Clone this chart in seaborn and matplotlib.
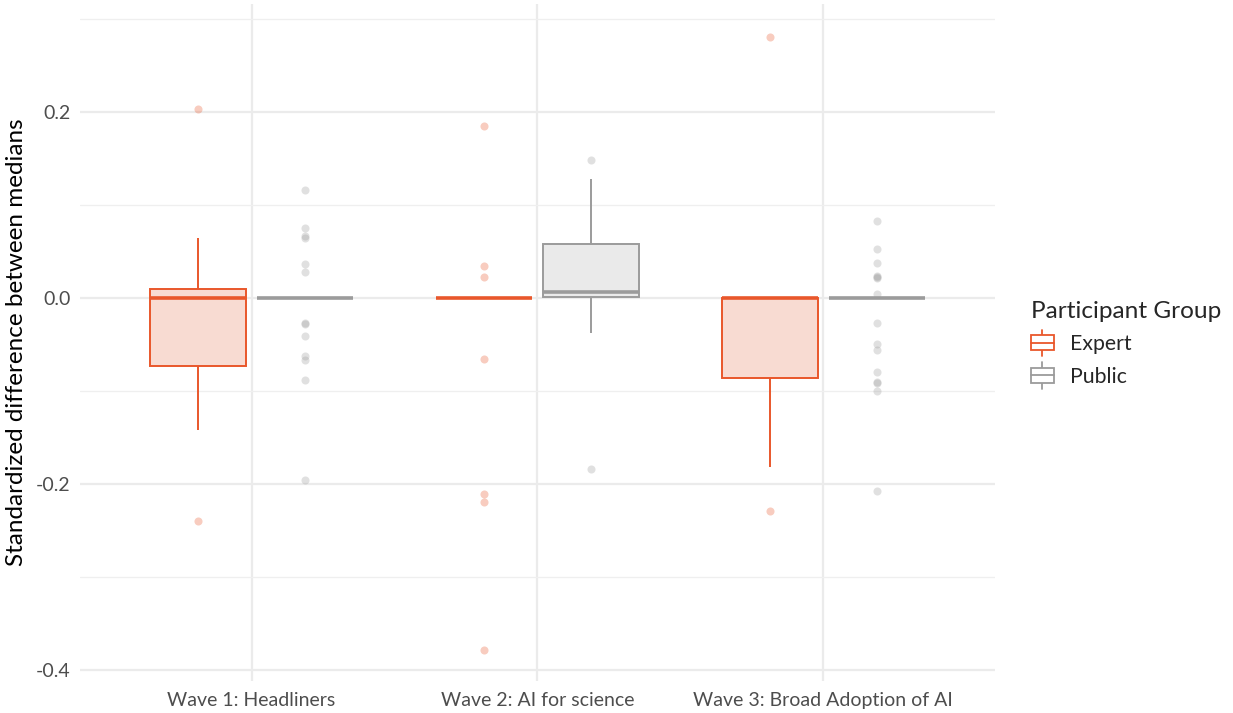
import matplotlib
matplotlib.use("Agg")
import matplotlib.pyplot as plt
import seaborn as sns
import pandas as pd
from matplotlib.legend_handler import HandlerBase
from matplotlib.lines import Line2D
from matplotlib.patches import Patch, Rectangle
from matplotlib.ticker import MultipleLocator

# values (quartiles, whisker ends, outliers; zeros fill the collapsed boxes)
waves = ["Wave 1: Headliners", "Wave 2: AI for science", "Wave 3: Broad Adoption of AI"]
groups = ["Expert", "Public"]

expert_w1 = [-0.240, -0.142, -0.073, -0.030, 0.0, 0.004, 0.010, 0.064, 0.203]
expert_w2 = [0.185, 0.034, 0.022, -0.066, -0.211, -0.220, -0.379] + [0.0] * 33
expert_w3 = [-0.229, -0.182, -0.086, -0.040, 0.0, 0.0, 0.0, 0.0, 0.281]

public_w1 = [0.116, 0.075, 0.067, 0.064, 0.036, 0.028,
             -0.027, -0.028, -0.041, -0.062, -0.067, -0.088, -0.196] + [0.0] * 27
public_w2 = [-0.184, -0.038, 0.001, 0.003, 0.006, 0.030, 0.058, 0.128, 0.148]
public_w3 = [0.083, 0.052, 0.037, 0.024, 0.022, 0.021, 0.004,
             -0.027, -0.050, -0.056, -0.080, -0.091, -0.092, -0.100, -0.208] + [0.0] * 25

edge_colors = {"Expert": "#E9572B", "Public": "#9B9B9B"}
fill_colors = {"Expert": "#F8DBD2", "Public": "#EAEAEA"}

rows = []
for grp, lists in [("Expert", [expert_w1, expert_w2, expert_w3]),
                   ("Public", [public_w1, public_w2, public_w3])]:
    for wave, vals in zip(waves, lists):
        for v in vals:
            rows.append({"wave": wave, "group": grp, "value": v})
df = pd.DataFrame(rows)

sns.set_theme(style="whitegrid")
plt.rcParams["font.family"] = ["Lato", "DejaVu Sans"]
plt.rcParams["axes.unicode_minus"] = False

fig = plt.figure(figsize=(12.33, 7.13), dpi=100)
ax = fig.add_axes([0.0649, 0.0449, 0.742, 0.9495])

for grp in groups:
    col = edge_colors[grp]
    sns.boxplot(
        data=df[df["group"] == grp], x="wave", y="value", order=waves,
        hue="group", hue_order=groups, palette=fill_colors, saturation=1,
        dodge=True, width=0.75, gap=0.1, linecolor=col, linewidth=1.4,
        showcaps=False, legend=False, ax=ax,
        medianprops={"color": col, "linewidth": 2.6},
        flierprops={"marker": "o", "markersize": 5.8, "markerfacecolor": col,
                    "markeredgecolor": "none", "alpha": 0.3},
    )

ax.set_xlim(-0.6, 2.6)
ax.set_ylim(-0.412, 0.316)
ax.yaxis.set_major_locator(MultipleLocator(0.2))
ax.yaxis.set_minor_locator(MultipleLocator(0.1))
ax.set_yticklabels([f"{t:.1f}" for t in ax.get_yticks()])
ax.grid(which="major", color="#EBEBEB", linewidth=1.6)
ax.grid(which="minor", axis="y", color="#EFEFEF", linewidth=0.9)
ax.set_axisbelow(True)
for s in ax.spines.values():
    s.set_visible(False)
ax.tick_params(axis="both", which="both", length=0, labelsize=14, labelcolor="#4D4D4D")
ax.tick_params(axis="y", pad=7)
ax.tick_params(axis="x", pad=8)
ax.set_xlabel("")
ax.set_ylabel("Standardized difference between medians", fontsize=17.5, color="black", labelpad=6)


class BoxKey(HandlerBase):
    def create_artists(self, legend, orig_handle, xdescent, ydescent, width, height, fontsize, trans):
        c = orig_handle.get_edgecolor()
        x0, y0 = -xdescent, -ydescent
        cx, cy = x0 + width / 2, y0 + height / 2
        whisk = Line2D([cx, cx], [y0 - 0.2 * height, y0 + 1.2 * height], color=c, lw=1.3, transform=trans)
        box = Rectangle((x0, y0 + 0.1 * height), width, 0.8 * height,
                        facecolor="white", edgecolor=c, lw=1.3, transform=trans)
        med = Line2D([x0, x0 + width], [cy, cy], color=c, lw=1.3, transform=trans)
        return [whisk, box, med]


handles = [Patch(facecolor="white", edgecolor=edge_colors[g], label=g) for g in groups]
leg = fig.legend(handles=handles, title="Participant Group", loc="center left",
                 bbox_to_anchor=(0.836, 0.518), frameon=False, fontsize=15.3,
                 title_fontsize=17.6, handler_map={Patch: BoxKey()}, borderpad=0,
                 borderaxespad=0, handlelength=1.1, handleheight=1.0,
                 handletextpad=0.75, labelspacing=0.55)
leg._legend_box.align = "left"

fig.savefig("out.png", dpi=100)
